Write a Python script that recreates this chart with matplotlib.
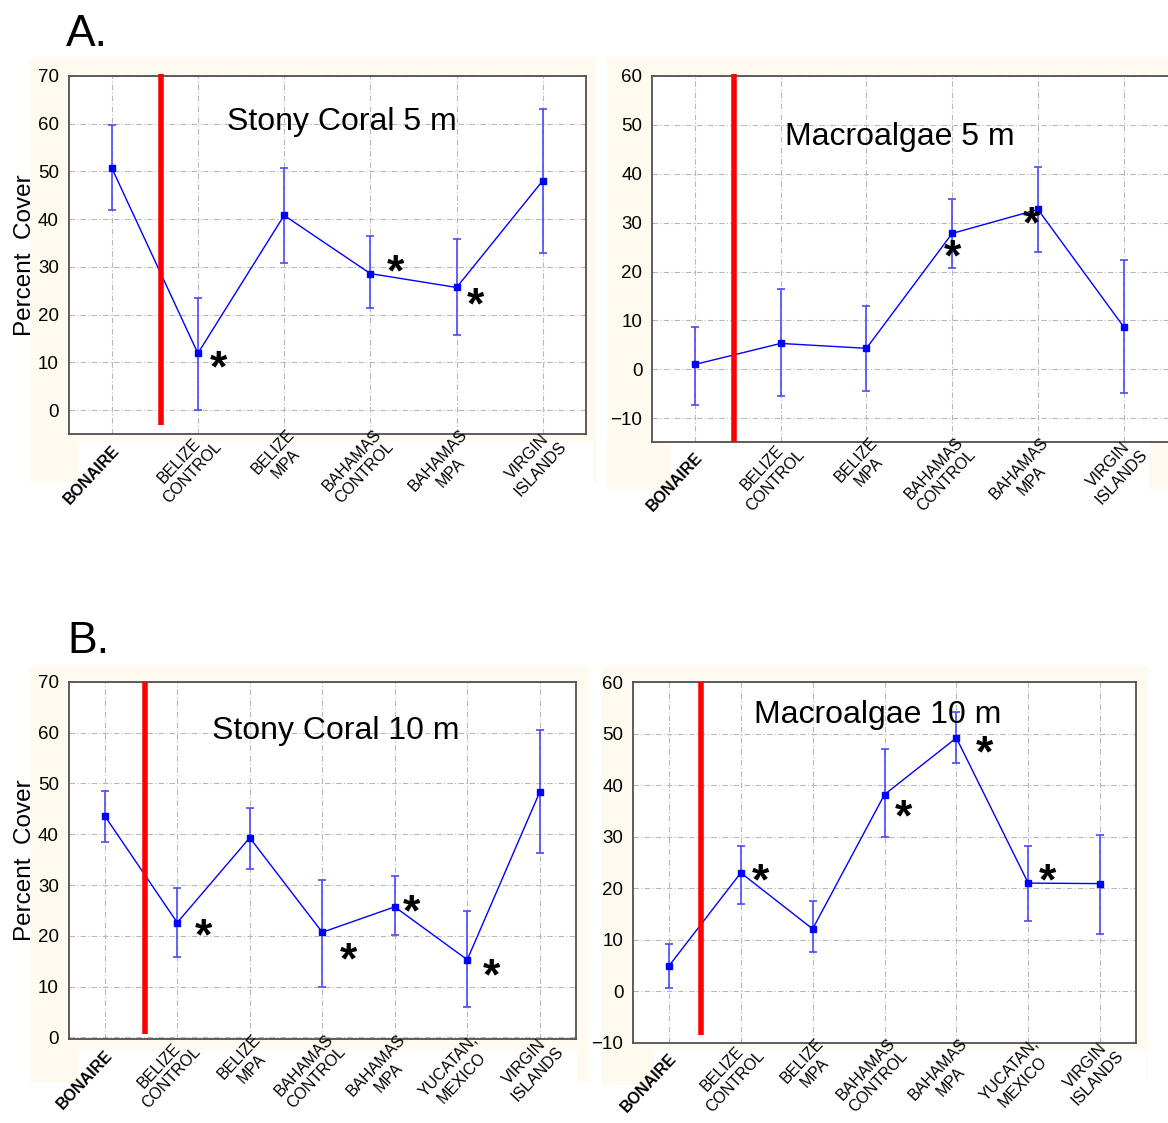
import matplotlib.pyplot as plt
from matplotlib.patches import Rectangle

plt.rcParams["font.family"] = ["Liberation Sans", "DejaVu Sans"]

W, H = 1168, 1123

SITES_6 = [
    "BONAIRE",
    "BELIZE\nCONTROL",
    "BELIZE\nMPA",
    "BAHAMAS\nCONTROL",
    "BAHAMAS\nMPA",
    "VIRGIN\nISLANDS",
]
SITES_7 = SITES_6[:5] + ["YUCATAN,\nMEXICO"] + SITES_6[5:]

coral_5m_mean = [50.8, 11.9, 40.8, 28.6, 25.7, 48.1]
coral_5m_low = [41.9, 0.0, 30.8, 21.3, 15.7, 33.0]
coral_5m_high = [59.7, 23.4, 50.8, 36.4, 35.8, 63.1]

algae_5m_mean = [1.0, 5.3, 4.3, 27.8, 32.7, 8.7]
algae_5m_low = [-7.2, -5.5, -4.4, 20.7, 24.0, -4.9]
algae_5m_high = [8.7, 16.4, 13.0, 34.9, 41.4, 22.4]

coral_10m_mean = [43.6, 22.6, 39.3, 20.7, 25.7, 15.3, 48.3]
coral_10m_low = [38.4, 15.8, 33.2, 10.0, 20.1, 5.9, 36.3]
coral_10m_high = [48.4, 29.5, 45.2, 31.0, 31.7, 24.8, 60.4]

algae_10m_mean = [4.9, 23.0, 12.1, 38.2, 49.2, 21.0, 20.9]
algae_10m_low = [0.7, 16.9, 7.6, 29.9, 44.4, 13.7, 11.1]
algae_10m_high = [9.1, 28.2, 17.5, 47.0, 54.3, 28.2, 30.4]

# significance markers (x in category units, y in percent cover)
coral_5m_stars = [(1.24, 11.2), (3.29, 31.3), (4.22, 24.5)]
algae_5m_stars = [(3.0, 25.3), (3.93, 32.0)]
coral_10m_stars = [(1.36, 22.2), (3.36, 17.5), (4.23, 26.9), (5.34, 14.3)]
algae_10m_stars = [(1.27, 23.6), (3.27, 36.1), (4.39, 48.5), (5.27, 23.6)]

CREAM = "#fffaf0"


def px_rect(fig, x0, y0, x1, y1, color, z):
    fig.patches.append(
        Rectangle(
            (x0 / W, 1 - y1 / H),
            (x1 - x0) / W,
            (y1 - y0) / H,
            transform=fig.transFigure,
            facecolor=color,
            edgecolor="none",
            zorder=z,
        )
    )


def px_axes(fig, x0, y0, x1, y1):
    return fig.add_axes([x0 / W, 1 - y1 / H, (x1 - x0) / W, (y1 - y0) / H])


def site_labels(ax, labels):
    ax.set_xticks(range(len(labels)))
    ax.set_xticklabels([])
    for i, name in enumerate(labels):
        two_line = "\n" in name
        offset = (2, 5) if two_line else (0, -6)
        ax.annotate(
            name,
            xy=(i, 0),
            xycoords=("data", "axes fraction"),
            xytext=offset,
            textcoords="offset points",
            rotation=47,
            rotation_mode="anchor",
            ha="right",
            va="top",
            multialignment="center",
            fontsize=11.5,
            fontweight="normal" if i else "bold",
            annotation_clip=False,
        )


def draw_panel(ax, labels, mean, low, high, ylim, yticks, xlim, title, title_xy,
               stars, red_x, red_span, ylabel=None):
    x = list(range(len(labels)))
    err = [
        [m - lo for m, lo in zip(mean, low)],
        [hi - m for m, hi in zip(mean, high)],
    ]

    ax.set_facecolor("white")
    ax.set_xlim(*xlim)
    ax.set_ylim(*ylim)
    ax.set_yticks(yticks)
    site_labels(ax, labels)
    ax.tick_params(axis="x", length=0)
    ax.tick_params(axis="y", length=0, pad=7, labelsize=13.5)

    ax.grid(True, color="#b8b8b8", linewidth=0.8, linestyle=(0, (5, 2, 1, 2)))
    ax.set_axisbelow(True)
    for side in ["left", "right", "top", "bottom"]:
        ax.spines[side].set_color("#505050")
        ax.spines[side].set_linewidth(1.3)

    ax.errorbar(x, mean, yerr=err, fmt="none", ecolor="#4a4aff",
                elinewidth=1.2, capsize=3, capthick=1.2, zorder=3)
    ax.plot(x, mean, color="#0000ff", linewidth=1.0, marker="s",
            markersize=5, markerfacecolor="#0000ff",
            markeredgecolor="#0000ff", zorder=4)

    ax.vlines(red_x, red_span[0], red_span[1], color="#ff0000",
              linewidth=4, zorder=5, clip_on=False)

    ax.text(title_xy[0], title_xy[1], title, fontsize=23, ha="center",
            va="baseline", color="black", zorder=6)

    for sx, sy in stars:
        ax.annotate("*", xy=(sx, sy), xytext=(0, -18),
                    textcoords="offset points", ha="center", va="baseline",
                    fontsize=32, fontweight="bold", color="black", zorder=6)

    if ylabel:
        ax.set_ylabel(ylabel, fontsize=17.5, labelpad=1)


fig = plt.figure(figsize=(W / 100, H / 100), dpi=100)
fig.patch.set_facecolor("white")

# cream backing behind each panel, white strip behind the category labels
px_rect(fig, 30, 58, 597, 482, CREAM, -3)
px_rect(fig, 79, 442, 593, 482, "white", -2)
px_rect(fig, 607, 58, 1168, 490, CREAM, -3)
px_rect(fig, 671, 443, 1149, 490, "white", -2)
px_rect(fig, 30, 666, 589, 1083, CREAM, -3)
px_rect(fig, 79, 1050, 578, 1083, "white", -2)
px_rect(fig, 602, 666, 1148, 1085, CREAM, -3)
px_rect(fig, 654, 1050, 1147, 1085, "white", -2)

ax1 = px_axes(fig, 68.5, 76, 586, 434)
draw_panel(ax1, SITES_6, coral_5m_mean, coral_5m_low, coral_5m_high,
           (-5, 70), range(0, 71, 10), (-0.5, 5.5), "Stony Coral 5 m",
           (2.67, 58.7), coral_5m_stars, 0.57, (-3.2, 70.4),
           ylabel="Percent  Cover")

ax2 = px_axes(fig, 652, 76, 1170, 441.7)
draw_panel(ax2, SITES_6, algae_5m_mean, algae_5m_low, algae_5m_high,
           (-14.8, 60), range(-10, 61, 10), (-0.5, 5.54), "Macroalgae 5 m",
           (2.39, 45.8), algae_5m_stars, 0.46, (-14.8, 60.4))

ax3 = px_axes(fig, 68.5, 681.7, 576, 1039)
draw_panel(ax3, SITES_7, coral_10m_mean, coral_10m_low, coral_10m_high,
           (-0.3, 70), range(0, 71, 10), (-0.5, 6.5), "Stony Coral 10 m",
           (3.18, 58.7), coral_10m_stars, 0.56, (0.7, 70),
           ylabel="Percent  Cover")

ax4 = px_axes(fig, 633, 682.3, 1136, 1042.7)
draw_panel(ax4, SITES_7, algae_10m_mean, algae_10m_low, algae_10m_high,
           (-10, 60), range(-10, 61, 10), (-0.5, 6.5), "Macroalgae 10 m",
           (2.90, 52.0), algae_10m_stars, 0.45, (-8.6, 60.1))

fig.text(66 / W, 1 - 46 / H, "A.", fontsize=32, ha="left", va="baseline")
fig.text(67 / W, 1 - 653 / H, "B.", fontsize=32, ha="left", va="baseline")

fig.savefig("out.png", dpi=100)
